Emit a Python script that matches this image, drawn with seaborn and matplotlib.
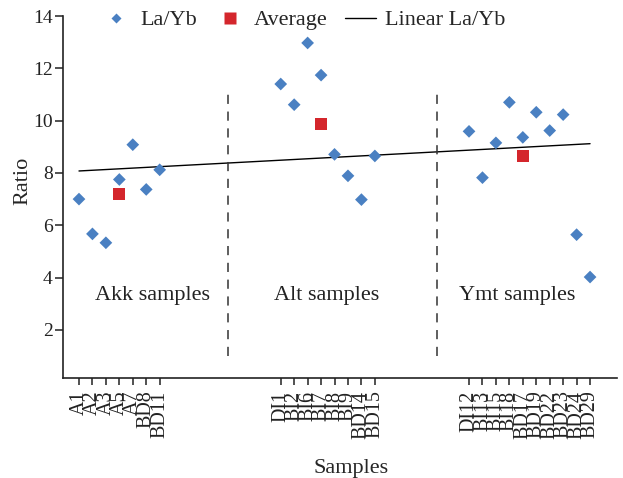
import numpy as np
import pandas as pd
import seaborn as sns
import matplotlib
matplotlib.use("Agg")
import matplotlib.pyplot as plt
from matplotlib.lines import Line2D

# sample names per group
akk_names = ["A1", "A2", "A3", "A5", "A7", "BD8", "BD11"]
alt_names = ["DI1", "BI2", "BI6", "BI7", "BI8", "BI9", "BD14", "BD15"]
ymt_names = ["DI12", "BI13", "BI15", "BI18", "BD17", "BD19", "BD22", "BD23", "BD24", "BD29"]

# La/Yb ratios
akk_layb = [7.00, 5.67, 5.33, 7.75, 9.08, 7.37, 8.12]
alt_layb = [11.40, 10.61, 12.97, 11.74, 8.71, 7.89, 6.98, 8.65]
ymt_layb = [9.59, 7.82, 9.15, 10.70, 9.36, 10.32, 9.62, 10.23, 5.64, 4.02]

group_titles = ["Akk samples", "Alt samples", "Ymt samples"]

blue = "#4a80c2"
red = "#d4262c"

sns.set_style("ticks")
plt.rcParams["font.family"] = ["Liberation Serif", "DejaVu Serif"]

# slot positions on the category axis, with blank slots between groups
starts = [0, 15, 29]
groups = [(akk_names, akk_layb), (alt_names, alt_layb), (ymt_names, ymt_layb)]
rows = []
avg_rows = []
for g, (st, (names, vals)) in enumerate(zip(starts, groups)):
    for i, (n, v) in enumerate(zip(names, vals)):
        rows.append({"pos": st + i, "name": n, "ratio": v, "group": g})
    avg_rows.append({"pos": st + (len(vals) - 1) // 2, "ratio": np.mean(vals)})
df = pd.DataFrame(rows)
avg = pd.DataFrame(avg_rows)

# linear trend over all La/Yb values
k, b = np.polyfit(df["pos"], df["ratio"], 1)
trend = pd.DataFrame({"pos": [df["pos"].min(), df["pos"].max()]})
trend["ratio"] = k * trend["pos"] + b

fig = plt.figure(figsize=(6.23, 4.78), dpi=100)
ax = fig.add_axes([0.1011, 0.2092, 0.8892, 0.7573])

sns.lineplot(data=trend, x="pos", y="ratio", color="black", lw=1.0, ax=ax)
sns.scatterplot(data=df, x="pos", y="ratio", marker="D", s=42, color=blue,
                edgecolor="none", ax=ax, zorder=3)
sns.scatterplot(data=avg, x="pos", y="ratio", marker="s", s=76, color=red,
                edgecolor="none", ax=ax, zorder=3)

# dashed dividers between groups
for xd in [11.1, 26.6]:
    ax.plot([xd, xd], [1.0, 11.0], color="#333333", lw=1.1, dashes=(6, 5))

label_x = [5.5, 18.4, 32.6]
for x, t in zip(label_x, group_titles):
    ax.text(x, 3.3, t, ha="center", va="center", fontsize=16, color="#222222")

ax.set_xlim(-1.19, 40.0)
ax.set_ylim(0.16, 14)
ax.set_yticks([2, 4, 6, 8, 10, 12, 14])
ax.set_xticks(df["pos"])
ax.set_xticklabels(df["name"], rotation=90, fontsize=14.5)
ax.tick_params(axis="y", labelsize=14, length=6, width=1.1, pad=1.5,
               direction="out", colors="#222222")
ax.tick_params(axis="x", length=5, width=1.1, pad=4, direction="out",
               colors="#222222")
for s in ["top", "right"]:
    ax.spines[s].set_visible(False)
for s in ["left", "bottom"]:
    ax.spines[s].set_linewidth(1.2)
    ax.spines[s].set_color("#222222")

ax.set_xlabel("Samples", fontsize=16)
ax.set_ylabel("Ratio", fontsize=16)
ax.xaxis.set_label_coords(0.52, -0.225)
ax.yaxis.set_label_coords(-0.056, 0.545)

handles = [
    Line2D([], [], ls="none", marker="D", ms=5, color=blue, mec="none"),
    Line2D([], [], ls="none", marker="s", ms=8, color=red, mec="none"),
    Line2D([], [], color="black", lw=1.0),
]
fig.legend(handles, ["La/Yb", "Average", "Linear La/Yb"], ncol=3,
           loc="center", bbox_to_anchor=(0.486, 0.958), frameon=False,
           fontsize=16, handlelength=1.4, handletextpad=0.4,
           columnspacing=0.75)

fig.savefig("out.png", dpi=100)
